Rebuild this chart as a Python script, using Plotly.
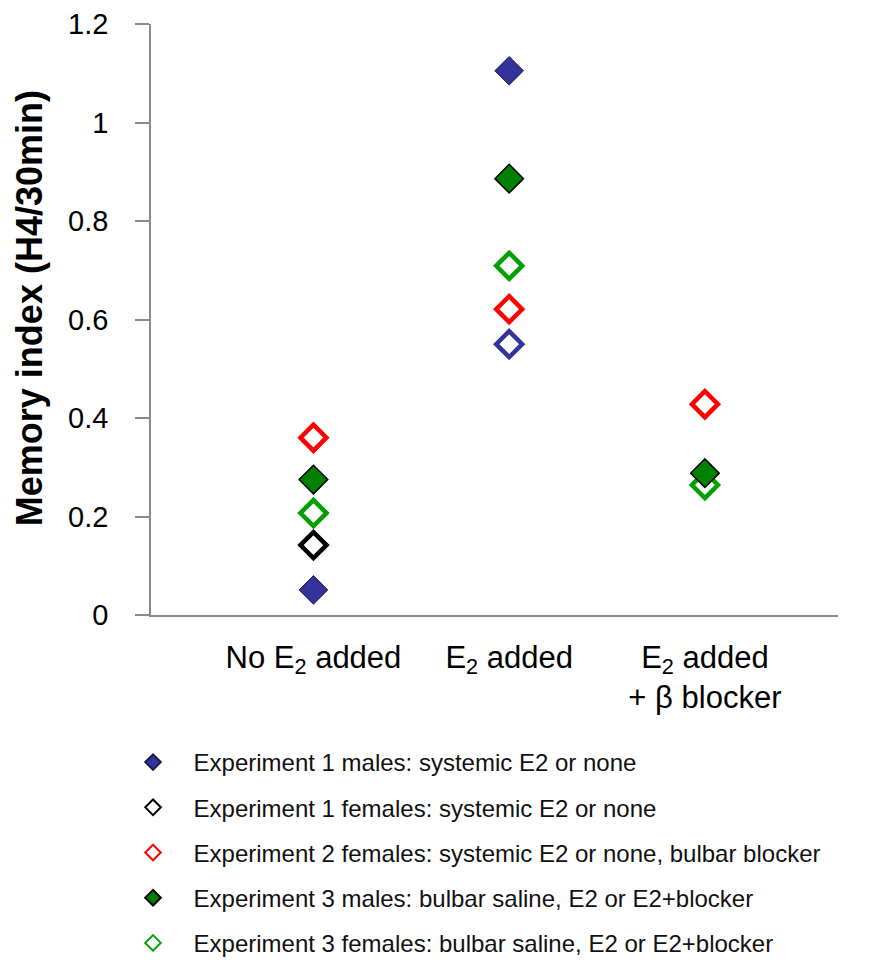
import plotly.graph_objects as go

categories = ["No E<sub>2</sub> added", "E<sub>2</sub> added", "E<sub>2</sub> added<br>+ β blocker"]
cat_pos = [1, 2, 3]

exp1_males = [0.051, 1.105, None]
exp1_females = [0.142, 0.550, None]
exp2_females = [0.360, 0.621, 0.428]
exp3_males = [0.275, 0.886, 0.288]
exp3_females = [0.207, 0.709, 0.264]

names = [
    "Experiment 1 males: systemic E2 or none",
    "Experiment 1 females: systemic E2 or none",
    "Experiment 2 females: systemic E2 or none, bulbar blocker",
    "Experiment 3 males: bulbar saline, E2 or E2+blocker",
    "Experiment 3 females: bulbar saline, E2 or E2+blocker",
]

y_ticks = [0, 0.2, 0.4, 0.6, 0.8, 1.0, 1.2]
y_ticktext = ["0", "0.2", "0.4", "0.6", "0.8", "1", "1.2"]

FONT = "Liberation Sans, Arial, sans-serif"
MS = 22
OW = 4.5
W, H = 885, 962
LEG_TOP = 740  # px from top of page

fig = go.Figure()

# Experiment 1 males - filled navy
fig.add_trace(go.Scatter(
    x=cat_pos, y=exp1_males, mode="markers", name=names[0],
    legendgroup="g1", legendrank=1,
    marker=dict(symbol="diamond", size=MS, color="#333399",
                line=dict(color="#1a1a4d", width=1)),
))
# Experiment 1 females - open black (second point appears navy in source)
fig.add_trace(go.Scatter(
    x=cat_pos, y=exp1_females, mode="markers", name=names[1],
    legendgroup="g2", legendrank=2,
    marker=dict(symbol="diamond-open", size=MS - 2,
                color=["#000000", "#333399", "#000000"],
                line=dict(width=OW)),
))
# Experiment 2 females - open red
fig.add_trace(go.Scatter(
    x=cat_pos, y=exp2_females, mode="markers", name=names[2],
    legendgroup="g3", legendrank=3,
    marker=dict(symbol="diamond-open", size=MS - 2, color="#FF0000",
                line=dict(width=OW)),
))
# Experiment 3 females - open green (drawn before males)
fig.add_trace(go.Scatter(
    x=cat_pos, y=exp3_females, mode="markers", name=names[4],
    legendgroup="g5", legendrank=5,
    marker=dict(symbol="diamond-open", size=MS - 2, color="#00A000",
                line=dict(width=OW)),
))
# Experiment 3 males - filled green with black outline
fig.add_trace(go.Scatter(
    x=cat_pos, y=exp3_males, mode="markers", name=names[3],
    legendgroup="g4", legendrank=4,
    marker=dict(symbol="diamond", size=MS, color="#008000",
                line=dict(color="#000000", width=1.5)),
))

fig.add_annotation(
    text="<b>Memory index (H4/30min)</b>", textangle=-90,
    xref="paper", yref="y", x=0, y=0.623, xshift=-122,
    xanchor="center", yanchor="middle", showarrow=False,
    font=dict(family=FONT, size=36, color="#000000"),
)

fig.update_layout(
    width=W, height=H,
    margin=dict(l=151, r=47, t=24, b=347),
    paper_bgcolor="white", plot_bgcolor="white",
    font=dict(family=FONT, color="#000000"),
    showlegend=True,
    legend=dict(
        xref="paper", yref="container",
        x=-0.056, y=1 - LEG_TOP / H, xanchor="left", yanchor="top",
        font=dict(family=FONT, size=24, color="#111111"),
        tracegroupgap=11, itemsizing="constant", itemwidth=71,
        bgcolor="rgba(0,0,0,0)",
    ),
    xaxis=dict(
        range=[0.17, 3.68], tickvals=cat_pos, ticktext=categories,
        showgrid=False, zeroline=False, showline=True, automargin=False,
        linecolor="#8a8a8a", linewidth=1.5, ticks="",
        tickfont=dict(family=FONT, size=31, color="#000000"),
        ticklabelstandoff=14,
    ),
    yaxis=dict(
        range=[0, 1.2], tickvals=y_ticks, ticktext=y_ticktext,
        showgrid=False, zeroline=False, showline=True, automargin=False,
        linecolor="#8a8a8a", linewidth=1.5,
        ticks="outside", ticklen=14, tickcolor="#8a8a8a", tickwidth=1.5,
        tickfont=dict(family=FONT, size=29, color="#000000"),
        ticklabelstandoff=21,
    ),
)

fig.write_html("out.html")
